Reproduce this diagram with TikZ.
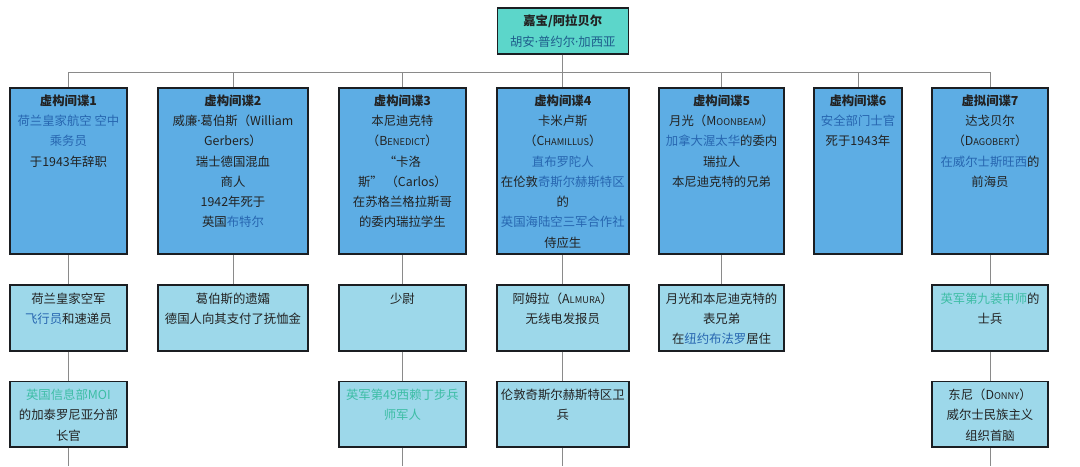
\documentclass[tikz,border=0pt]{standalone}
\usepackage{fontspec}
\setmainfont{Noto Sans CJK SC}
\newfontfamily\latinfont{Noto Sans}
\usetikzlibrary{positioning,shadows}
\definecolor{TopFill}{HTML}{5CD6CA}
\definecolor{SpyFill}{HTML}{5DADE4}
\definecolor{SubFill}{HTML}{9DD8EA}
\definecolor{Edge}{HTML}{1B1E22}
\definecolor{Wire}{HTML}{8A8A8A}
\definecolor{Ink}{HTML}{222222}
\definecolor{Link}{HTML}{2766B0}
\definecolor{Teal}{HTML}{3DBDA5}
\definecolor{Name}{HTML}{1F5E8C}
\newcommand{\lk}[1]{\textcolor{Link}{#1}}
\newcommand{\tl}[1]{\textcolor{Teal}{#1}}
\newcommand{\capsname}[2]{#1{\fontsize{6.6}{8}\selectfont #2}}
\newcommand{\dotsep}{{\latinfont ·}}

\begin{document}
\begin{tikzpicture}[
  box/.style={draw=Edge,line width=1.1pt,inner sep=0pt,
              drop shadow={shadow xshift=0.7pt,shadow yshift=-0.9pt,opacity=0.35}},
  top/.style={box,fill=TopFill,minimum width=3.275cm,minimum height=1.15cm,
              align=center,text=Ink,font={\fontsize{8.8}{14.6}\selectfont}},
  spy/.style={box,fill=SpyFill,minimum height=4.15cm},
  sub/.style={box,fill=SubFill,minimum height=1.64cm},
  txt/.style={anchor=north,align=center,inner sep=0pt,text=Ink,
              font={\fontsize{8.8}{14.4}\selectfont}},
  conn/.style={draw=Wire,line width=0.6pt},
]
\fill[white] (0,0) rectangle (27,-11.65);
\useasboundingbox (0,0) rectangle (27,-11.65);

\node[top] (root) at (14.07,-0.775) {\textbf{嘉宝/阿拉贝尔}\\\textcolor{Name}{胡安\dotsep 普约尔\dotsep 加西亚}};

% first row: the seven invented agents
\node[spy,minimum width=2.925cm] (s1) at (1.71,-4.28) {};
\node[spy,minimum width=3.75cm] (s2) at (5.825,-4.28) {};
\node[spy,minimum width=3.175cm] (s3) at (10.06,-4.28) {};
\node[spy,minimum width=3.3cm] (s4) at (14.07,-4.28) {};
\node[spy,minimum width=3.125cm] (s5) at (18.04,-4.28) {};
\node[spy,minimum width=2.2cm] (s6) at (21.45,-4.28) {};
\node[spy,minimum width=2.9cm] (s7) at (24.75,-4.28) {};

\node[txt,below=0.18cm of s1.north] (s1t) {\textbf{虚构间谍1}\\\lk{荷兰皇家航空 空中}\\\lk{乘务员}\\于1943年辞职};
\node[txt,below=0.18cm of s2.north] (s2t) {\textbf{虚构间谍2}\\威廉\dotsep 葛伯斯（William\\Gerbers）\\瑞士德国混血\\商人\\1942年死于\\英国\lk{布特尔}};
\node[txt,below=0.18cm of s3.north] (s3t) {\textbf{虚构间谍3}\\本尼迪克特\\（\capsname{B}{ENEDICT}）\\“卡洛\\斯”\ （Carlos）\\在苏格兰格拉斯哥\\的委内瑞拉学生};
\node[txt,below=0.18cm of s4.north] (s4t) {\textbf{虚构间谍4}\\卡米卢斯\\（\capsname{C}{HAMILLUS}）\\\lk{直布罗陀人}\\在伦敦\lk{奇斯尔赫斯特区}\\的\\\lk{英国海陆空三军合作社}\\侍应生};
\node[txt,below=0.18cm of s5.north] (s5t) {\textbf{虚构间谍5}\\月光（\capsname{M}{OONBEAM}）\\\lk{加拿大渥太华}的委内\\瑞拉人\\本尼迪克特的兄弟};
\node[txt,below=0.18cm of s6.north] (s6t) {\textbf{虚构间谍6}\\\lk{安全部门士官}\\死于1943年};
\node[txt,below=0.18cm of s7.north] (s7t) {\textbf{虚拟间谍7}\\达戈贝尔\\（\capsname{D}{AGOBERT}）\\\lk{在威尔士斯旺西}的\\前海员};

% second row
\node[sub,minimum width=2.925cm] (c1) at (1.71,-7.95) {};
\node[sub,minimum width=3.75cm] (c2) at (5.825,-7.95) {};
\node[sub,minimum width=3.175cm] (c3) at (10.06,-7.95) {};
\node[sub,minimum width=3.3cm] (c4) at (14.07,-7.95) {};
\node[sub,minimum width=3.125cm] (c5) at (18.04,-7.95) {};
\node[sub,minimum width=2.9cm] (c7) at (24.75,-7.95) {};

\node[txt,below=0.2cm of c1.north] (c1t) {荷兰皇家空军\\\lk{飞行员}和速递员};
\node[txt,below=0.2cm of c2.north] (c2t) {葛伯斯的遗孀\\德国人向其支付了抚恤金};
\node[txt,below=0.2cm of c3.north] (c3t) {少尉};
\node[txt,below=0.2cm of c4.north] (c4t) {阿姆拉（\capsname{A}{LMURA}）\\无线电发报员};
\node[txt,below=0.2cm of c5.north] (c5t) {月光和本尼迪克特的\\表兄弟\\在\lk{纽约布法罗}居住};
\node[txt,below=0.2cm of c7.north] (c7t) {\tl{英军第九装甲师}的\\士兵};

% third row
\node[sub,minimum width=2.925cm] (d1) at (1.71,-10.36) {};
\node[sub,minimum width=3.175cm] (d3) at (10.06,-10.36) {};
\node[sub,minimum width=3.3cm] (d4) at (14.07,-10.36) {};
\node[sub,minimum width=2.9cm] (d7) at (24.75,-10.36) {};

\node[txt,below=0.2cm of d1.north] (d1t) {\tl{英国信息部MOI}\\的加泰罗尼亚分部\\长官};
\node[txt,below=0.2cm of d3.north] (d3t) {\tl{英军第49西赖丁步兵}\\\tl{师军人}};
\node[txt,below=0.2cm of d4.north] (d4t) {伦敦奇斯尔赫斯特区卫\\兵};
\node[txt,below=0.2cm of d7.north] (d7t) {东尼（\capsname{D}{ONNY}）\\威尔士民族主义\\组织首脑};

% connectors
\coordinate (bus) at (14.07,-1.8);
\coordinate (floor) at (0,-11.65);
\foreach \n in {s1,s2,s3,s4,s5,s6,s7}
  \draw[conn] (root.south) -- (bus) -| (\n.north);
\foreach \a/\b in {s1/c1,s2/c2,s3/c3,s4/c4,s5/c5,s7/c7,c1/d1,c3/d3,c4/d4,c7/d7}
  \draw[conn] (\a.south) -- (\b.north);
\foreach \n in {d1,d3,d4,d7}
  \draw[conn] (\n.south) -- (\n.south |- floor);
\end{tikzpicture}
\end{document}
